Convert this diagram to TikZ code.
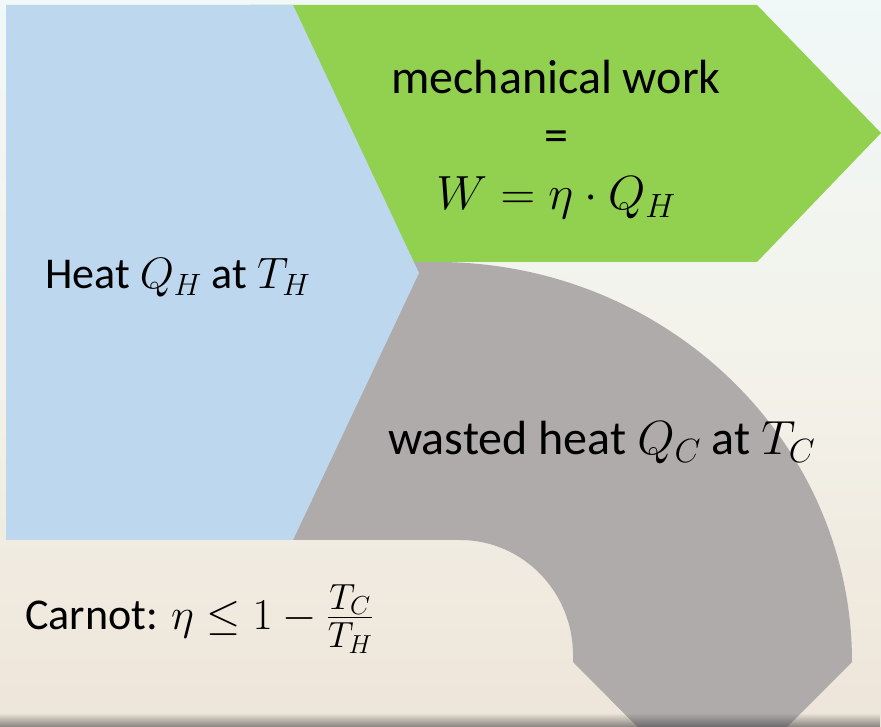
\RequirePackage{fix-cm}
\documentclass[tikz,border=0pt]{standalone}
\usepackage{fontspec}
\setmainfont{Carlito}
\usepackage{tikz}
\usetikzlibrary{fadings}

\definecolor{heatblue}{HTML}{BDD7EE}
\definecolor{workgreen}{HTML}{92D050}
\definecolor{wastegray}{HTML}{AFABAB}
\definecolor{bgtop}{HTML}{F0F8F8}
\definecolor{bgmid}{HTML}{F3F2EA}
\definecolor{bgbot}{HTML}{EEE5D9}
\tikzfading[name=shadowfade, top color=transparent!100, bottom color=transparent!40]

\begin{document}
\begin{tikzpicture}[
  x=1pt, y=1pt,
  region/.style={draw=none},
  txt/.style={font=\fontsize{44}{58}\selectfont, inner sep=0pt, text=black},
  bigtxt/.style={txt, font=\fontsize{48}{58}\selectfont}
]
\useasboundingbox (0,0) rectangle (881,727);
\clip (0,0) rectangle (881,727);

% Background
\shade[top color=bgtop, bottom color=bgbot, middle color=bgmid] (0,0) rectangle (881,727);

% Shapes
\fill[region, wastegray] (250,465) -- (437,465)
  arc[start angle=90, end angle=0, x radius=415, y radius=400]
  -- (712,-75) -- (573,65) -- (573,72)
  arc[start angle=0, end angle=90, x radius=113, y radius=115]
  -- (250,187) -- cycle;
\fill[region, workgreen] (250,722) -- (757,722) -- (881,594) -- (757,465) -- (250,465) -- cycle;
\fill[region, heatblue] (6,722) -- (293,722) -- (419,454) -- (293,187) -- (6,187) -- cycle;

% Shadow at the bottom
\fill[black!75, path fading=shadowfade] (0,0) rectangle (881,14);

% Labels
\node[bigtxt, align=center] (work) at (556,587) {mechanical work\\=\\$W=\eta\cdot Q_H$};
\node[txt, anchor=base west] (heat) at (45,438) {Heat $Q_H$ at $T_H$};
\node[bigtxt, anchor=base west] (waste) at (388,272) {wasted heat $Q_C$ at $T_C$};
\node[txt, anchor=base west] (carnot) at (25,97) {Carnot: $\eta\leq 1-{}${\fontsize{52}{60}\selectfont$\frac{T_C}{T_H}$}};
\end{tikzpicture}
\end{document}
